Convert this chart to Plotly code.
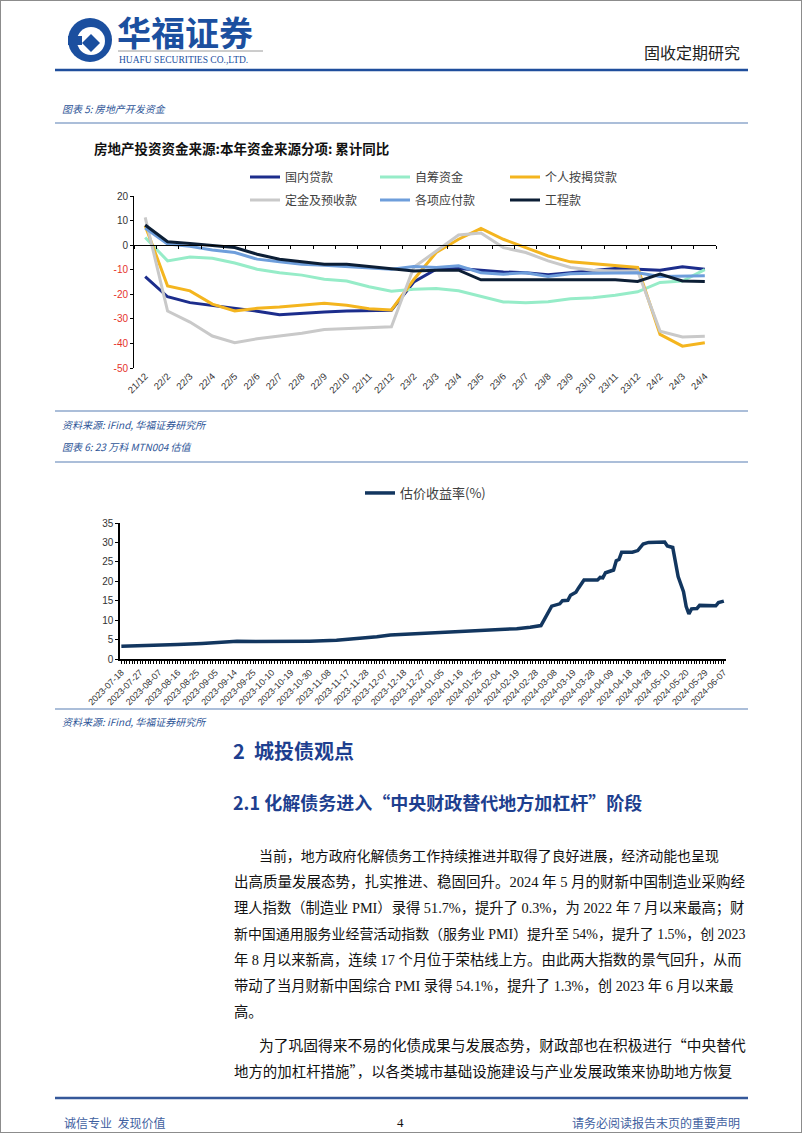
import plotly.graph_objects as go

W, H = 802, 1133
def px(x): return x / W
def py(y): return 1 - y / H

# ---------------- Chart 1 data ----------------
months = ["21/12","22/2","22/3","22/4","22/5","22/6","22/7","22/8","22/9","22/10","22/11","22/12",
          "23/2","23/3","23/4","23/5","23/6","23/7","23/8","23/9","23/10","23/11","23/12",
          "24/2","24/3","24/4"]
domestic_loan = [-12.8,-21.0,-23.4,-24.5,-25.6,-26.9,-28.3,-27.6,-27.2,-26.8,-26.6,-26.5,
                 -15.0,-9.8,-9.5,-10.2,-10.9,-11.2,-12.0,-11.2,-10.5,-9.5,-9.8,-10.2,-8.8,-9.8]
self_raised = [3.1,-6.4,-4.8,-5.3,-7.3,-9.8,-11.2,-12.2,-13.9,-14.6,-16.9,-18.8,
               -18.0,-17.6,-18.6,-20.7,-23.1,-23.4,-23.0,-21.8,-21.4,-20.4,-19.0,-15.2,-14.6,-10.0]
mortgage = [7.9,-16.6,-18.6,-24.0,-26.8,-25.7,-25.2,-24.5,-23.7,-24.5,-25.9,-26.4,
            -14.0,-3.0,2.4,6.8,2.4,-1.0,-4.4,-6.8,-7.5,-8.2,-9.1,-36.3,-41.1,-39.7]
deposits = [11.3,-26.8,-31.3,-37.0,-39.7,-38.1,-37.0,-35.9,-34.3,-34.0,-33.6,-33.2,
            -9.0,-2.3,4.1,4.9,-1.0,-3.0,-6.4,-9.1,-10.2,-10.5,-10.5,-35.0,-37.4,-37.1]
payables = [7.0,0.4,-0.5,-2.0,-3.0,-5.7,-6.8,-7.8,-8.2,-8.7,-9.5,-9.8,
            -8.7,-9.1,-8.4,-11.2,-11.8,-11.2,-12.8,-11.6,-11.4,-11.2,-11.2,-12.8,-12.5,-12.5]
engineering = [8.2,1.4,0.7,-0.3,-1.0,-3.7,-5.7,-6.8,-7.8,-7.8,-8.7,-9.5,
               -10.5,-10.2,-10.2,-14.1,-14.1,-14.1,-14.1,-14.1,-14.1,-14.1,-14.8,-11.8,-14.6,-14.8]
y1_ticks = [20, 10, 0, -10, -20, -30, -40, -50]

# ---------------- Chart 2 data ----------------
date_labels = ["2023-07-18","2023-07-27","2023-08-07","2023-08-16","2023-08-25","2023-09-05",
               "2023-09-14","2023-09-25","2023-10-10","2023-10-19","2023-10-30","2023-11-08",
               "2023-11-17","2023-11-28","2023-12-07","2023-12-18","2023-12-27","2024-01-05",
               "2024-01-16","2024-01-25","2024-02-04","2024-02-19","2024-02-28","2024-03-08",
               "2024-03-19","2024-03-28","2024-04-09","2024-04-18","2024-04-28","2024-05-10",
               "2024-05-20","2024-05-29","2024-06-07"]
label_step = 7  # trading days between labelled dates
yield_day = [0,10,21,30,37,43,50,60,70,80,87,95,100,110,117,122,128,134,141,147,152,155,156,
             160,162,163,164,166,167,169,170,172,177,178,179,180,183,184,185,186,190,192,194,
             196,202,203,205,207,209,210,211,212,214,215,221,222,224]
yield_val = [3.3,3.4,3.7,4.0,4.4,4.6,4.5,4.5,4.6,4.8,5.2,5.7,6.2,6.5,6.9,7.0,7.1,7.3,7.5,7.8,8.2,8.4,8.6,
             13.6,14.1,14.2,15.0,15.1,16.4,17.2,18.3,20.3,20.3,21.0,20.9,22.2,22.9,25.3,25.6,
             27.5,27.5,27.9,29.6,30.0,30.1,29.1,28.7,21.2,17.3,13.5,11.6,12.9,13.0,13.8,13.7,14.5,14.9]
y2_ticks = [0, 5, 10, 15, 20, 25, 30, 35]

# ---------------- layout geometry ----------------
c1_x0, c1_x1, c1_ytop, c1_ybot = 134, 716, 196, 368
c2_x0, c2_x1, c2_ytop, c2_ybot = 120, 726, 523, 659
y1_min, y1_max = -50, 20

fig = go.Figure()

series1 = [
    ("国内贷款", domestic_loan, "#1c2d8c", "legend"),
    ("自筹资金", self_raised, "#96ecc8", "legend"),
    ("个人按揭贷款", mortgage, "#f4b51f", "legend"),
    ("定金及预收款", deposits, "#c9c9c9", "legend2"),
    ("各项应付款", payables, "#6e9edb", "legend2"),
    ("工程款", engineering, "#0c1e35", "legend2"),
]
for name, vals, color, lg in series1:
    fig.add_trace(go.Scatter(x=months, y=vals, name=name, mode="lines",
                             line=dict(color=color, width=3), xaxis="x", yaxis="y",
                             legend=lg, hoverinfo="skip"))

# helper trace for the zero-line axis with tick marks
fig.add_trace(go.Scatter(x=[None], y=[None], xaxis="x3", yaxis="y", showlegend=False,
                         hoverinfo="skip"))

fig.add_trace(go.Scatter(x=yield_day, y=yield_val, name="估价收益率(%)", mode="lines",
                         line=dict(color="#12365f", width=3.5), xaxis="x2", yaxis="y2",
                         legend="legend3", hoverinfo="skip"))

tickfont = dict(family="Arial, Liberation Sans", size=10, color="#333333")
ticktext1 = [str(v) if v >= 0 else f'<span style="color:#e5332a">{v}</span>' for v in y1_ticks]

d0, d1 = py(c1_ybot), py(c1_ytop)
zero_pos = d0 + (d1 - d0) * (0 - y1_min) / (y1_max - y1_min)

legfont = dict(family="Noto Sans CJK SC", size=12, color="#404040")

fig.update_layout(
    width=W, height=H, margin=dict(l=0, r=0, t=0, b=0, pad=0, autoexpand=False),
    paper_bgcolor="white", plot_bgcolor="rgba(0,0,0,0)",
    xaxis=dict(domain=[px(c1_x0), px(c1_x1)], type="category", range=[-0.5, len(months) - 0.5],
               anchor="y", showline=False, ticks="", tickangle=-45, showgrid=False,
               zeroline=False, automargin=False,
               tickfont=dict(family="Arial, Liberation Sans", size=9.5, color="#333")),
    yaxis=dict(domain=[d0, d1], range=[y1_min, y1_max], anchor="x", tickvals=y1_ticks,
               ticktext=ticktext1, showline=True, linecolor="#000", linewidth=1,
               ticks="outside", ticklen=3, tickcolor="#000", showgrid=False, zeroline=False,
               tickfont=tickfont, automargin=False),
    xaxis3=dict(overlaying="x", anchor="free", position=zero_pos, type="linear",
                range=[-0.5, len(months) - 0.5], showline=True, linecolor="#000", linewidth=1,
                ticks="outside", ticklen=3, tickcolor="#000",
                tickvals=[i - 0.5 for i in range(len(months) + 1)],
                showticklabels=False, showgrid=False, zeroline=False, automargin=False),
    xaxis2=dict(domain=[px(c2_x0), px(c2_x1)], type="linear", range=[-0.5, 224.8], anchor="y2",
                tickvals=[i * label_step for i in range(len(date_labels))], ticktext=date_labels,
                tickangle=-45, showline=True, linecolor="#000", linewidth=1.5, ticks="outside",
                ticklen=3, tickcolor="#000", showgrid=False, zeroline=False, automargin=False,
                minor=dict(dtick=1, ticks="outside", ticklen=3, tickcolor="#000", showgrid=False),
                tickfont=dict(family="Arial, Liberation Sans", size=9, color="#333")),
    yaxis2=dict(domain=[py(c2_ybot), py(c2_ytop)], range=[0, 35], anchor="x2", tickvals=y2_ticks,
                showline=True, linecolor="#000", linewidth=1.5, ticks="outside", ticklen=3,
                tickcolor="#000", showgrid=False, zeroline=False, tickfont=tickfont,
                automargin=False),
    legend=dict(orientation="h", x=px(245), y=py(177), xanchor="left", yanchor="middle",
                entrywidth=85, entrywidthmode="pixels", font=legfont, bgcolor="rgba(0,0,0,0)",
                itemwidth=30),
    legend2=dict(orientation="h", x=px(245), y=py(200), xanchor="left", yanchor="middle",
                 entrywidth=85, entrywidthmode="pixels", font=legfont, bgcolor="rgba(0,0,0,0)",
                 itemwidth=30),
    legend3=dict(orientation="h", x=px(360), y=py(493), xanchor="left", yanchor="middle",
                 font=dict(family="Noto Sans CJK SC", size=13, color="#404040"),
                 bgcolor="rgba(0,0,0,0)", itemwidth=30),
)

blue = "#1e3f8f"
cap_blue = "#2e5597"
shapes = []
def hline(y, x0=55, x1=748, color="#8fa9cc", width=1.5):
    shapes.append(dict(type="line", xref="paper", yref="paper", x0=px(x0), x1=px(x1),
                       y0=py(y), y1=py(y), line=dict(color=color, width=width)))

# page frame
shapes.append(dict(type="rect", xref="paper", yref="paper", x0=0, x1=1, y0=0, y1=1,
                   line=dict(color="#8c8c8c", width=2)))
# header rule
hline(70, color="#1f4e9c", width=2.5)
hline(123); hline(411); hline(462); hline(709)
hline(1098, color="#35589a", width=2.5)
# logo
shapes.append(dict(type="circle", xref="paper", yref="paper", x0=px(68), x1=px(112),
                   y0=py(62), y1=py(18), fillcolor="#1b4f9f", line=dict(width=0)))
shapes.append(dict(type="circle", xref="paper", yref="paper", x0=px(77), x1=px(105),
                   y0=py(55), y1=py(27), fillcolor="white", line=dict(width=0)))
shapes.append(dict(type="path", xref="paper", yref="paper",
                   path=f"M {px(91)} {py(34)} L {px(100)} {py(43)} L {px(91)} {py(52)} L {px(82)} {py(43)} Z",
                   fillcolor="#1b4f9f", line=dict(width=0)))
shapes.append(dict(type="rect", xref="paper", yref="paper", x0=px(68), x1=px(82),
                   y0=py(45), y1=py(36), fillcolor="#1b4f9f", line=dict(width=0)))
hline(51, x0=118, x1=263, color="#9a9a9a", width=1)

ann = []
def text(x, y, s, size=12, color="#000", anchor="left", family="Noto Sans CJK SC", bold=False):
    if bold:
        s = f"<b>{s}</b>"
    a = dict(xref="paper", yref="paper", x=px(x), y=py(y), text=s, showarrow=False,
             xanchor=anchor, yanchor="middle", font=dict(family=family, size=size, color=color))
    ann.append(a)

text(115, 32, "华福证券", size=34, color="#1b4f9f", bold=True)
text(117, 60, "HUAFU SECURITIES CO.,LTD.", size=9.5, color="#1b4f9f", family="Liberation Serif")
text(742, 52, "固收定期研究", size=16, color="#222", anchor="right")

text(60, 109, "<i>图表 5: 房地产开发资金</i>", size=10, color=cap_blue)
text(92, 148, "房地产投资资金来源:本年资金来源分项: 累计同比", size=13.5, color="#111", bold=True)
text(60, 424, "<i>资料来源: iFind, 华福证券研究所</i>", size=10, color=cap_blue)
text(60, 446, "<i>图表 6: 23 万科 MTN004 估值</i>", size=10, color=cap_blue)
text(60, 721, "<i>资料来源: iFind, 华福证券研究所</i>", size=10, color=cap_blue)

text(231, 750, "2  城投债观点", size=20, color=blue, bold=True)
text(231, 802, "2.1 化解债务进入“中央财政替代地方加杠杆”阶段", size=18, color=blue, bold=True)

body_font = "Liberation Serif, Noto Sans CJK SC"
lq = '<span style="font-family:Noto Sans CJK SC">“</span>'
rq = '<span style="font-family:Noto Sans CJK SC">”</span>'
body = [
    (257, 856, 13.95, "当前，地方政府化解债务工作持续推进并取得了良好进展，经济动能也呈现"),
    (232, 882, 14.5, "出高质量发展态势，扎实推进、稳固回升。2024 年 5 月的财新中国制造业采购经"),
    (232, 908, 14.3, "理人指数（制造业 PMI）录得 51.7%，提升了 0.3%，为 2022 年 7 月以来最高；财"),
    (232, 934, 13.95, "新中国通用服务业经营活动指数（服务业 PMI）提升至 54%，提升了 1.5%，创 2023"),
    (232, 960, 14.3, "年 8 月以来新高，连续 17 个月位于荣枯线上方。由此两大指数的景气回升，从而"),
    (232, 986, 14.3, "带动了当月财新中国综合 PMI 录得 54.1%，提升了 1.3%，创 2023 年 6 月以来最"),
    (232, 1012, 14.3, "高。"),
    (257, 1044, 14.75, "为了巩固得来不易的化债成果与发展态势，财政部也在积极进行" + lq + "中央替代"),
    (232, 1070, 14.45, "地方的加杠杆措施" + rq + "，以各类城市基础设施建设与产业发展政策来协助地方恢复"),
]
for x, y, size, s in body:
    text(x, y, s, size=size, color="#111", family=body_font)

text(62, 1122, "诚信专业  发现价值", size=12, color="#3f5f9f")
text(400, 1122, "4", size=13, color="#111", anchor="center", family=body_font)
text(742, 1122, "请务必阅读报告末页的重要声明", size=12, color="#3f5f9f", anchor="right")

fig.update_layout(shapes=shapes, annotations=ann)
fig.write_html("out.html")
